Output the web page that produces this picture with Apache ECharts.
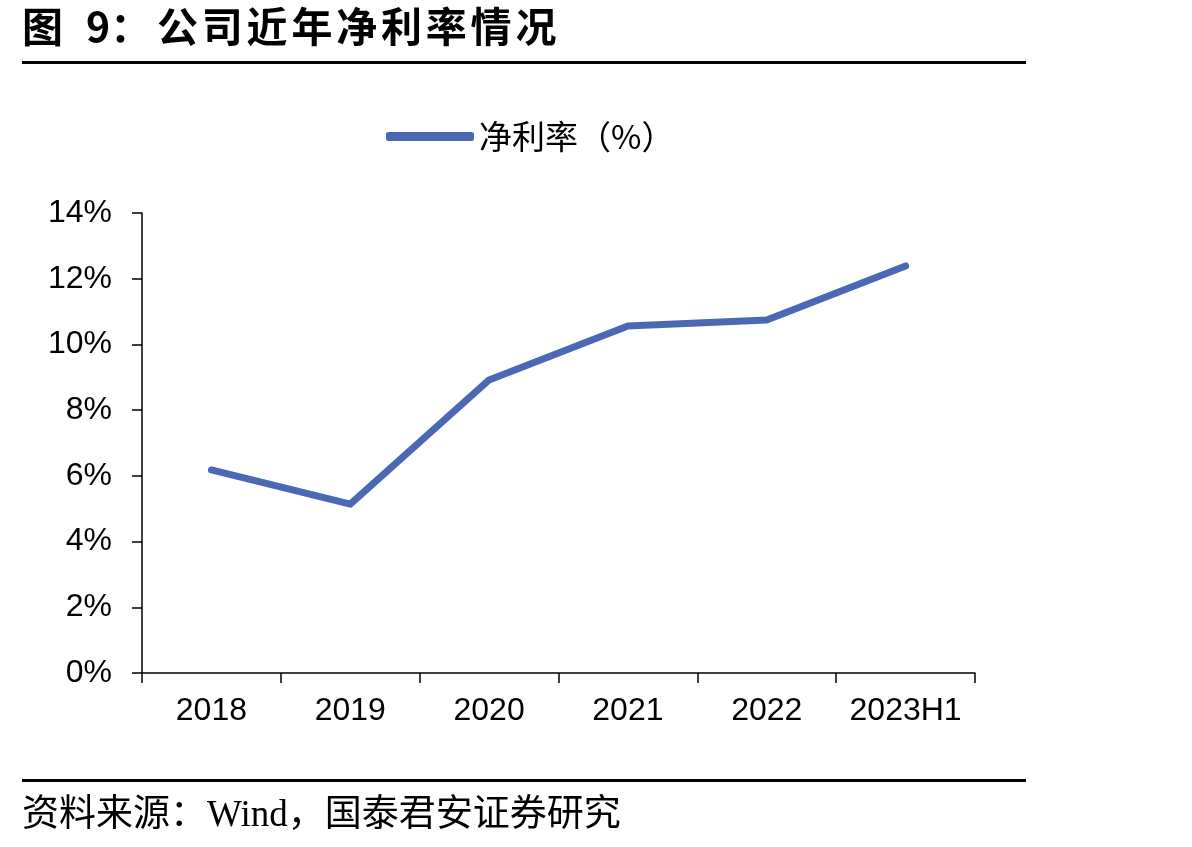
<!DOCTYPE html>
<html>
<head>
<meta charset="utf-8">
<script src="https://cdn.jsdelivr.net/npm/echarts@6/dist/echarts.min.js"></script>
<style>
html,body{margin:0;padding:0;background:#fff;}
#container{width:1192px;height:847px;}
</style>
</head>
<body>
<div id="container"></div>
<script>
// 年份
var categories = ['2018', '2019', '2020', '2021', '2022', '2023H1'];
// 净利率（%）
var netMargin = [6.18, 5.14, 8.92, 10.56, 10.74, 12.39];
var seriesName = '净利率（%）';
var titleText = '公司近年净利率情况';

var dom = document.getElementById("container");
var myChart = echarts.init(dom);

// 标题：逐字排开，字距较宽
var graphics = [
    {
        type: 'text', left: 22, top: 6,
        style: {text: '图', font: 'bold 41px "Noto Sans CJK SC"', fill: '#000'}
    },
    {
        type: 'text', left: 86, top: 6,
        style: {text: '9：', font: 'bold 41px "Noto Sans CJK SC"', fill: '#000'}
    }
];
for (var i = 0; i < titleText.length; i++) {
    graphics.push({
        type: 'text', left: 157 + i * 44.8, top: 6,
        style: {text: titleText[i], font: 'bold 41px "Noto Sans CJK SC"', fill: '#000'}
    });
}
graphics.push(
    {
        type: 'rect', left: 22, top: 61,
        shape: {width: 1004, height: 3}, style: {fill: '#000'}
    },
    {
        type: 'rect', left: 22, top: 779,
        shape: {width: 1004, height: 3}, style: {fill: '#000'}
    },
    {
        type: 'text', left: 22, top: 798,
        style: {text: '资料来源：Wind，国泰君安证券研究', font: '37px "Liberation Serif", "Noto Sans CJK SC", serif', fill: '#000'}
    }
);

var option = {
    animation: false,
    backgroundColor: '#fff',
    graphic: graphics,
    legend: {
        top: 115,
        left: 381,
        itemWidth: 88,
        itemHeight: 9,
        itemGap: 6,
        textStyle: {fontSize: 33, color: '#000', fontFamily: '"Noto Sans CJK SC", Arial'},
        data: [{name: seriesName, icon: 'roundRect'}]
    },
    grid: {left: 142, right: 217, top: 213, bottom: 174},
    xAxis: {
        type: 'category',
        data: categories,
        boundaryGap: true,
        axisLine: {lineStyle: {color: '#000', width: 1.5}},
        axisTick: {show: true, interval: 0, length: 10, lineStyle: {color: '#000', width: 1.5}},
        axisLabel: {interval: 0, fontSize: 32, color: '#000', margin: 22, fontFamily: 'Arial, "Liberation Sans"'}
    },
    yAxis: {
        type: 'value',
        min: 0,
        max: 14,
        interval: 2,
        splitLine: {show: false},
        axisLine: {show: true, lineStyle: {color: '#000', width: 1.5}},
        axisTick: {show: true, length: 10, lineStyle: {color: '#000', width: 1.5}},
        axisLabel: {fontSize: 32, color: '#000', margin: 30, formatter: '{value}%', fontFamily: 'Arial, "Liberation Sans"'}
    },
    series: [
        {
            name: seriesName,
            type: 'line',
            data: netMargin,
            symbol: 'none',
            lineStyle: {color: '#4a68b4', width: 7, cap: 'round', join: 'round'},
            itemStyle: {color: '#4a68b4'}
        }
    ]
};

if (option && typeof option === 'object') {
    myChart.setOption(option);
}
</script>
</body>
</html>
